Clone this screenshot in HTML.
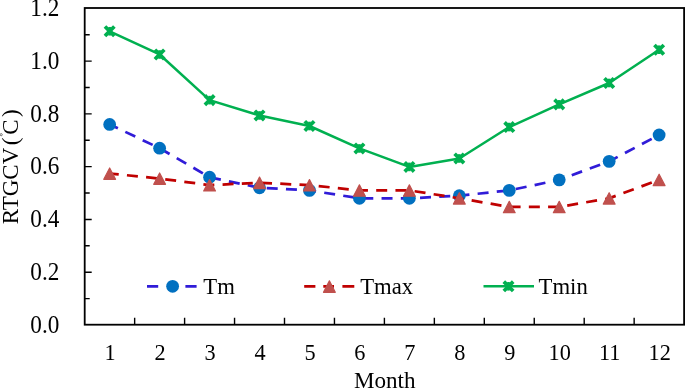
<!DOCTYPE html>
<html><head><meta charset="utf-8"><title>chart</title>
<style>
html,body{margin:0;padding:0;background:#fff;}
body{width:685px;height:388px;overflow:hidden;}
svg{display:block;will-change:transform;opacity:0.9999;}
text{font-family:"Liberation Serif",serif;font-size:22.5px;fill:#000;}
</style></head><body>
<svg width="685" height="388" viewBox="0 0 685 388">
<rect width="685" height="388" fill="#fff"/>

<rect x="84.7" y="8.0" width="599.40" height="316.70" fill="none" stroke="#000" stroke-width="1.8"/>
<path d="M84.7,298.61h5M84.7,272.22h7M84.7,245.82h5M84.7,219.43h7M84.7,193.04h5M84.7,166.65h7M84.7,140.26h5M84.7,113.87h7M84.7,87.47h5M84.7,61.08h7M84.7,34.69h5M134.65,324.7v-7M184.60,324.7v-7M234.55,324.7v-7M284.50,324.7v-7M334.45,324.7v-7M384.40,324.7v-7M434.35,324.7v-7M484.30,324.7v-7M534.25,324.7v-7M584.20,324.7v-7M634.15,324.7v-7" stroke="#000" stroke-width="1.4" fill="none"/>
<text transform="translate(59.30,332.80) scale(1,1.05)" text-anchor="end" style="font-size:23.2px">0.0</text>
<text transform="translate(59.30,280.02) scale(1,1.05)" text-anchor="end" style="font-size:23.2px">0.2</text>
<text transform="translate(59.30,227.23) scale(1,1.05)" text-anchor="end" style="font-size:23.2px">0.4</text>
<text transform="translate(59.30,174.45) scale(1,1.05)" text-anchor="end" style="font-size:23.2px">0.6</text>
<text transform="translate(59.30,121.67) scale(1,1.05)" text-anchor="end" style="font-size:23.2px">0.8</text>
<text transform="translate(59.30,68.88) scale(1,1.05)" text-anchor="end" style="font-size:23.2px">1.0</text>
<text transform="translate(59.30,16.10) scale(1,1.05)" text-anchor="end" style="font-size:23.2px">1.2</text>
<text transform="translate(110.17,359.60) scale(1,1.07)" text-anchor="middle" style="font-size:22.3px">1</text>
<text transform="translate(160.12,359.60) scale(1,1.07)" text-anchor="middle" style="font-size:22.3px">2</text>
<text transform="translate(210.07,359.60) scale(1,1.07)" text-anchor="middle" style="font-size:22.3px">3</text>
<text transform="translate(260.02,359.60) scale(1,1.07)" text-anchor="middle" style="font-size:22.3px">4</text>
<text transform="translate(309.97,359.60) scale(1,1.07)" text-anchor="middle" style="font-size:22.3px">5</text>
<text transform="translate(359.92,359.60) scale(1,1.07)" text-anchor="middle" style="font-size:22.3px">6</text>
<text transform="translate(409.87,359.60) scale(1,1.07)" text-anchor="middle" style="font-size:22.3px">7</text>
<text transform="translate(459.82,359.60) scale(1,1.07)" text-anchor="middle" style="font-size:22.3px">8</text>
<text transform="translate(509.77,359.60) scale(1,1.07)" text-anchor="middle" style="font-size:22.3px">9</text>
<text transform="translate(559.73,359.60) scale(1,1.07)" text-anchor="middle" style="font-size:22.3px">10</text>
<text transform="translate(609.67,359.60) scale(1,1.07)" text-anchor="middle" style="font-size:22.3px">11</text>
<text transform="translate(659.62,359.60) scale(1,1.07)" text-anchor="middle" style="font-size:22.3px">12</text>
<text transform="translate(384.70,388.00) scale(1,1.0)" text-anchor="middle" style="font-size:23.1px">Month</text>
<g transform="translate(17.6,224.3) rotate(-90)"><text x="0" y="0" style="font-size:23px">RTGCV</text><text x="79" y="0" style="font-size:23px">(</text><text x="89.6" y="0" style="font-size:23px">C</text><text x="107.2" y="0" style="font-size:23px">)</text><circle cx="89.6" cy="-16.4" r="1.1" fill="none" stroke="#000" stroke-width="0.5"/></g>
<polyline points="109.67,124.42 159.62,148.18 209.57,177.21 259.52,187.76 309.47,190.40 359.42,198.32 409.37,198.32 459.32,195.68 509.27,190.40 559.23,179.85 609.17,161.37 659.12,134.98" fill="none" stroke="#301cd8" stroke-width="2.75" stroke-dasharray="11 8.25" stroke-dashoffset="1.9"/>
<circle cx="109.67" cy="124.42" r="6.4" fill="#0070c0"/>
<circle cx="159.62" cy="148.18" r="6.4" fill="#0070c0"/>
<circle cx="209.57" cy="177.21" r="6.4" fill="#0070c0"/>
<circle cx="259.52" cy="187.76" r="6.4" fill="#0070c0"/>
<circle cx="309.47" cy="190.40" r="6.4" fill="#0070c0"/>
<circle cx="359.42" cy="198.32" r="6.4" fill="#0070c0"/>
<circle cx="409.37" cy="198.32" r="6.4" fill="#0070c0"/>
<circle cx="459.32" cy="195.68" r="6.4" fill="#0070c0"/>
<circle cx="509.27" cy="190.40" r="6.4" fill="#0070c0"/>
<circle cx="559.23" cy="179.85" r="6.4" fill="#0070c0"/>
<circle cx="609.17" cy="161.37" r="6.4" fill="#0070c0"/>
<circle cx="659.12" cy="134.98" r="6.4" fill="#0070c0"/>
<polyline points="109.67,173.51 159.62,178.53 209.57,185.12 259.52,182.75 309.47,185.12 359.42,190.40 409.37,190.40 459.32,198.32 509.27,206.90 559.23,206.90 609.17,198.32 659.12,179.85" fill="none" stroke="#c00000" stroke-width="2.75" stroke-dasharray="11 8.25" stroke-dashoffset="1.9"/>
<path transform="translate(109.67,173.51)" d="M0,-5.6L5.9,5.8H-5.9Z" fill="#c0504d" stroke="#c0504d" stroke-width="1.2" stroke-linejoin="round"/>
<path transform="translate(159.62,178.53)" d="M0,-5.6L5.9,5.8H-5.9Z" fill="#c0504d" stroke="#c0504d" stroke-width="1.2" stroke-linejoin="round"/>
<path transform="translate(209.57,185.12)" d="M0,-5.6L5.9,5.8H-5.9Z" fill="#c0504d" stroke="#c0504d" stroke-width="1.2" stroke-linejoin="round"/>
<path transform="translate(259.52,182.75)" d="M0,-5.6L5.9,5.8H-5.9Z" fill="#c0504d" stroke="#c0504d" stroke-width="1.2" stroke-linejoin="round"/>
<path transform="translate(309.47,185.12)" d="M0,-5.6L5.9,5.8H-5.9Z" fill="#c0504d" stroke="#c0504d" stroke-width="1.2" stroke-linejoin="round"/>
<path transform="translate(359.42,190.40)" d="M0,-5.6L5.9,5.8H-5.9Z" fill="#c0504d" stroke="#c0504d" stroke-width="1.2" stroke-linejoin="round"/>
<path transform="translate(409.37,190.40)" d="M0,-5.6L5.9,5.8H-5.9Z" fill="#c0504d" stroke="#c0504d" stroke-width="1.2" stroke-linejoin="round"/>
<path transform="translate(459.32,198.32)" d="M0,-5.6L5.9,5.8H-5.9Z" fill="#c0504d" stroke="#c0504d" stroke-width="1.2" stroke-linejoin="round"/>
<path transform="translate(509.27,206.90)" d="M0,-5.6L5.9,5.8H-5.9Z" fill="#c0504d" stroke="#c0504d" stroke-width="1.2" stroke-linejoin="round"/>
<path transform="translate(559.23,206.90)" d="M0,-5.6L5.9,5.8H-5.9Z" fill="#c0504d" stroke="#c0504d" stroke-width="1.2" stroke-linejoin="round"/>
<path transform="translate(609.17,198.32)" d="M0,-5.6L5.9,5.8H-5.9Z" fill="#c0504d" stroke="#c0504d" stroke-width="1.2" stroke-linejoin="round"/>
<path transform="translate(659.12,179.85)" d="M0,-5.6L5.9,5.8H-5.9Z" fill="#c0504d" stroke="#c0504d" stroke-width="1.2" stroke-linejoin="round"/>
<polyline points="109.67,31.26 159.62,54.49 209.57,100.14 259.52,115.45 309.47,126.01 359.42,148.44 409.37,166.91 459.32,158.47 509.27,127.06 559.23,104.37 609.17,82.99 659.12,49.73" fill="none" stroke="#00b050" stroke-width="2.5" stroke-linejoin="round"/>
<g transform="translate(109.67,31.26)"><path d="M-3.4,-3.4L3.4,3.4M-3.4,3.4L3.4,-3.4" stroke="#00b050" stroke-width="3.7" stroke-linecap="square" fill="none"/><path d="M0,-4.3V4.3" stroke="#00b050" stroke-width="2.6"/></g>
<g transform="translate(159.62,54.49)"><path d="M-3.4,-3.4L3.4,3.4M-3.4,3.4L3.4,-3.4" stroke="#00b050" stroke-width="3.7" stroke-linecap="square" fill="none"/><path d="M0,-4.3V4.3" stroke="#00b050" stroke-width="2.6"/></g>
<g transform="translate(209.57,100.14)"><path d="M-3.4,-3.4L3.4,3.4M-3.4,3.4L3.4,-3.4" stroke="#00b050" stroke-width="3.7" stroke-linecap="square" fill="none"/><path d="M0,-4.3V4.3" stroke="#00b050" stroke-width="2.6"/></g>
<g transform="translate(259.52,115.45)"><path d="M-3.4,-3.4L3.4,3.4M-3.4,3.4L3.4,-3.4" stroke="#00b050" stroke-width="3.7" stroke-linecap="square" fill="none"/><path d="M0,-4.3V4.3" stroke="#00b050" stroke-width="2.6"/></g>
<g transform="translate(309.47,126.01)"><path d="M-3.4,-3.4L3.4,3.4M-3.4,3.4L3.4,-3.4" stroke="#00b050" stroke-width="3.7" stroke-linecap="square" fill="none"/><path d="M0,-4.3V4.3" stroke="#00b050" stroke-width="2.6"/></g>
<g transform="translate(359.42,148.44)"><path d="M-3.4,-3.4L3.4,3.4M-3.4,3.4L3.4,-3.4" stroke="#00b050" stroke-width="3.7" stroke-linecap="square" fill="none"/><path d="M0,-4.3V4.3" stroke="#00b050" stroke-width="2.6"/></g>
<g transform="translate(409.37,166.91)"><path d="M-3.4,-3.4L3.4,3.4M-3.4,3.4L3.4,-3.4" stroke="#00b050" stroke-width="3.7" stroke-linecap="square" fill="none"/><path d="M0,-4.3V4.3" stroke="#00b050" stroke-width="2.6"/></g>
<g transform="translate(459.32,158.47)"><path d="M-3.4,-3.4L3.4,3.4M-3.4,3.4L3.4,-3.4" stroke="#00b050" stroke-width="3.7" stroke-linecap="square" fill="none"/><path d="M0,-4.3V4.3" stroke="#00b050" stroke-width="2.6"/></g>
<g transform="translate(509.27,127.06)"><path d="M-3.4,-3.4L3.4,3.4M-3.4,3.4L3.4,-3.4" stroke="#00b050" stroke-width="3.7" stroke-linecap="square" fill="none"/><path d="M0,-4.3V4.3" stroke="#00b050" stroke-width="2.6"/></g>
<g transform="translate(559.23,104.37)"><path d="M-3.4,-3.4L3.4,3.4M-3.4,3.4L3.4,-3.4" stroke="#00b050" stroke-width="3.7" stroke-linecap="square" fill="none"/><path d="M0,-4.3V4.3" stroke="#00b050" stroke-width="2.6"/></g>
<g transform="translate(609.17,82.99)"><path d="M-3.4,-3.4L3.4,3.4M-3.4,3.4L3.4,-3.4" stroke="#00b050" stroke-width="3.7" stroke-linecap="square" fill="none"/><path d="M0,-4.3V4.3" stroke="#00b050" stroke-width="2.6"/></g>
<g transform="translate(659.12,49.73)"><path d="M-3.4,-3.4L3.4,3.4M-3.4,3.4L3.4,-3.4" stroke="#00b050" stroke-width="3.7" stroke-linecap="square" fill="none"/><path d="M0,-4.3V4.3" stroke="#00b050" stroke-width="2.6"/></g>
<path d="M147,286.3H158.2M185.4,286.3H196.6" stroke="#301cd8" stroke-width="2.75"/>
<circle cx="172.6" cy="286.3" r="6.4" fill="#0070c0"/>
<text transform="translate(203.30,294.30) scale(1,1.03)" text-anchor="start" style="font-size:22.7px">Tm</text>
<path d="M304.2,286.3H315.4M323.3,286.3H334M342.4,286.3H354.3" stroke="#c00000" stroke-width="2.75"/>
<path transform="translate(329.40,286.50)" d="M0,-5.6L5.9,5.8H-5.9Z" fill="#c0504d" stroke="#c0504d" stroke-width="1.2" stroke-linejoin="round"/>
<text transform="translate(360.20,294.30) scale(1,1.03)" text-anchor="start" style="font-size:22.7px">Tmax</text>
<path d="M483.5,286.3H534" stroke="#00b050" stroke-width="2.5"/>
<g transform="translate(508.50,286.30)"><path d="M-3.4,-3.4L3.4,3.4M-3.4,3.4L3.4,-3.4" stroke="#00b050" stroke-width="3.7" stroke-linecap="square" fill="none"/><path d="M0,-4.3V4.3" stroke="#00b050" stroke-width="2.6"/></g>
<text transform="translate(538.60,294.30) scale(1,1.03)" text-anchor="start" style="font-size:22.7px">Tmin</text>
</svg></body></html>
